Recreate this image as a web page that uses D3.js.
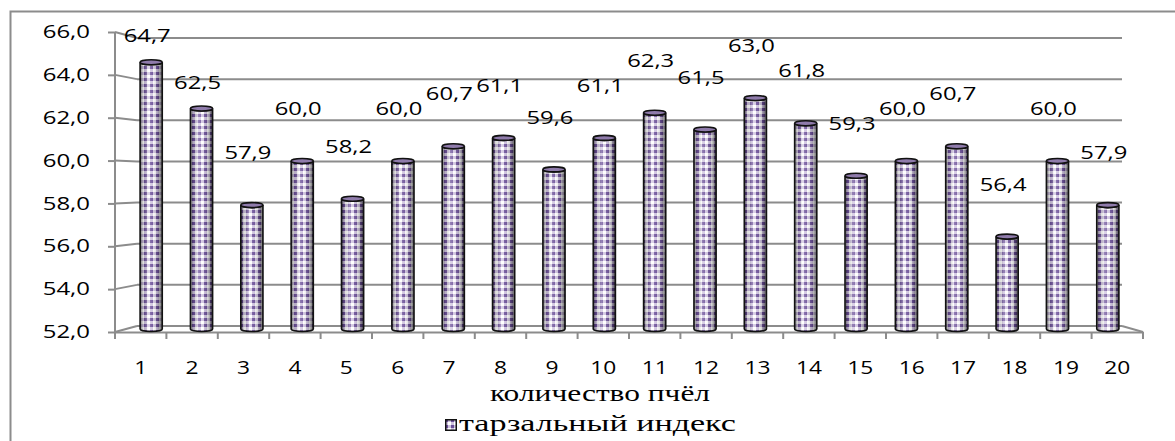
<!DOCTYPE html>
<html>
<head>
<meta charset="utf-8">
<script src="https://cdn.jsdelivr.net/npm/d3@7"></script>
<style>
  html, body { margin: 0; padding: 0; background: #fff; }
  svg { display: block; }
</style>
</head>
<body>
<div id="chart"></div>
<script>
// Tarsal index per bee
const categories = ["1","2","3","4","5","6","7","8","9","10","11","12","13","14","15","16","17","18","19","20"];
const values = [64.7, 62.5, 57.9, 60.0, 58.2, 60.0, 60.7, 61.1, 59.6, 61.1, 62.3, 61.5, 63.0, 61.8, 59.3, 60.0, 60.7, 56.4, 60.0, 57.9];
const yTicks = [52, 54, 56, 58, 60, 62, 64, 66];
const seriesName = "тарзальный индекс";
const axisTitle = "количество пчёл";

const W = 1175, H = 441;
const SANS = "Open Sans, sans-serif";
const SERIF = "Liberation Serif, serif";
const fmt = v => d3.format(".1f")(v).replace(".", ",");

// widen text horizontally around its anchor point
function stretch(sel, sx) {
  sel.each(function () {
    const t = d3.select(this);
    const x = +t.attr("x") || 0, y = +t.attr("y") || 0;
    t.attr("x", 0).attr("y", 0).attr("transform", `translate(${x},${y}) scale(${sx},1)`);
  });
}

const svg = d3.select("#chart").append("svg").attr("width", W).attr("height", H);
const defs = svg.append("defs");

// checkered fill for the cylinders
const pat = defs.append("pattern").attr("id", "check").attr("patternUnits", "userSpaceOnUse")
  .attr("width", 6).attr("height", 6);
pat.append("rect").attr("width", 6).attr("height", 6).attr("fill", "#cfc3df");
pat.append("rect").attr("x", 0).attr("y", 0).attr("width", 3).attr("height", 3).attr("fill", "#6b4f98");
pat.append("rect").attr("x", 3).attr("y", 3).attr("width", 3).attr("height", 3).attr("fill", "#ffffff");

// cylinder shading
const shade = defs.append("linearGradient").attr("id", "shade").attr("x1", 0).attr("x2", 1).attr("y1", 0).attr("y2", 0);
[[0, "#000", 0.5], [0.15, "#000", 0.12], [0.35, "#fff", 0.3], [0.55, "#fff", 0.1], [0.8, "#000", 0.18], [1, "#000", 0.6]]
  .forEach(([o, c, a]) => shade.append("stop").attr("offset", o).attr("stop-color", c).attr("stop-opacity", a));

// outer frame
svg.append("rect").attr("x", 10.5).attr("y", 11.5).attr("width", 1180).attr("height", 440)
  .attr("fill", "none").attr("stroke", "#8c8c8c").attr("stroke-width", 2);

// pseudo-3D geometry: front plane, back wall, mid plane for the bars
const front = { x0: 115, x1: 1143, yBase: 332 };
const back = { x0: 137, x1: 1122, yBase: 326 };
const mid = { x0: 126, x1: 1133 };

const yFront = d3.scaleLinear().domain([52, 66]).range([332, 32]);
const yBack = d3.scaleLinear().domain([52, 66]).range([326, 38]);
const yMid = d3.scaleLinear().domain([52, 66]).range([329, 35]);

const xFront = d3.scaleBand().domain(categories).range([front.x0, front.x1]);
const xMid = d3.scaleBand().domain(categories).range([mid.x0, mid.x1]).paddingInner(0.56).paddingOuter(0.28);

const grid = svg.append("g").attr("stroke", "#8c8c8c").attr("stroke-width", 2).attr("fill", "none");
// back-wall gridlines and side-wall connectors
yTicks.forEach(t => {
  grid.append("line").attr("x1", back.x0).attr("x2", back.x1).attr("y1", yBack(t)).attr("y2", yBack(t));
  grid.append("line").attr("x1", front.x0).attr("x2", back.x0).attr("y1", yFront(t)).attr("y2", yBack(t));
});
// floor right edge
grid.append("line").attr("x1", back.x1).attr("y1", back.yBase).attr("x2", front.x1).attr("y2", front.yBase);

// value axis (front left edge)
const yAxis = d3.axisLeft(yFront).tickValues(yTicks).tickSize(7).tickPadding(18).tickFormat(fmt);
const gy = svg.append("g").attr("transform", `translate(${front.x0},0)`).call(yAxis);
gy.select(".domain").attr("stroke", "#8c8c8c").attr("stroke-width", 2).attr("d", `M0,${yFront(52)}V${yFront(66)}`);
gy.selectAll(".tick line").attr("stroke", "#8c8c8c").attr("stroke-width", 2);
gy.selectAll(".tick text").attr("font-family", SANS).attr("font-size", 17.5).attr("fill", "#000").call(stretch, 1.37);

// category axis (front floor edge)
const xAxis = d3.axisBottom(xFront).tickSize(0).tickPadding(30);
const gx = svg.append("g").attr("transform", `translate(0,${front.yBase})`).call(xAxis);
gx.select(".domain").attr("stroke", "#8c8c8c").attr("stroke-width", 2);
gx.selectAll(".tick text").attr("font-family", SANS).attr("font-size", 17.5).attr("fill", "#000").call(stretch, 1.3);
// tick marks sit on the band boundaries
const bounds = categories.map(c => xFront(c)).concat([front.x1]);
gx.selectAll(".bnd").data(bounds).join("line").attr("class", "bnd")
  .attr("x1", d => d).attr("x2", d => d).attr("y1", 0).attr("y2", 7)
  .attr("stroke", "#8c8c8c").attr("stroke-width", 2);

// cylinders
const bw = xMid.bandwidth();
const ry = 2.5;
const bars = svg.append("g").selectAll("g").data(values).join("g");
bars.each(function (v, i) {
  const g = d3.select(this);
  const x = xMid(categories[i]);
  const yT = yMid(v), yB = yMid(52);
  const path = `M${x},${yT} L${x},${yB} A${bw / 2},${ry} 0 0 0 ${x + bw},${yB} L${x + bw},${yT} A${bw / 2},${ry} 0 0 1 ${x},${yT} Z`;
  g.append("path").attr("d", path).attr("fill", "url(#check)");
  g.append("path").attr("d", path).attr("fill", "url(#shade)").attr("stroke", "#111").attr("stroke-width", 1.6);
  g.append("ellipse").attr("cx", x + bw / 2).attr("cy", yT).attr("rx", bw / 2).attr("ry", ry)
    .attr("fill", "#8f7bab").attr("stroke", "#111").attr("stroke-width", 1.6);
});

// value labels above each cylinder, kept inside the plot area;
// the label of bee 2 sits closer to its column
const labelGap = c => (c === "2" ? 26 : 52);
svg.append("g").selectAll("text").data(values).join("text")
  .attr("x", (v, i) => xMid(categories[i]) + bw / 2 - 4)
  .attr("y", (v, i) => Math.max(yMid(v) - labelGap(categories[i]), 36))
  .attr("dy", "0.35em")
  .attr("text-anchor", "middle")
  .attr("font-family", SANS).attr("font-size", 17.5).attr("fill", "#000")
  .text(fmt)
  .call(stretch, 1.36);

// axis title
svg.append("text").attr("x", 600).attr("y", 401).attr("text-anchor", "middle")
  .attr("font-family", SERIF).attr("font-size", 24).attr("fill", "#000").text(axisTitle)
  .call(stretch, 1.31);

// legend
const lg = svg.append("g").attr("transform", "translate(445,419)");
lg.append("rect").attr("x", 0.75).attr("y", 0.75).attr("width", 10.5).attr("height", 10.5)
  .attr("fill", "url(#check)").attr("stroke", "#111").attr("stroke-width", 1.5);
lg.append("text").attr("x", 14).attr("y", 11.5)
  .attr("font-family", SERIF).attr("font-size", 24).attr("fill", "#000").text(seriesName)
  .call(stretch, 1.42);
</script>
</body>
</html>
